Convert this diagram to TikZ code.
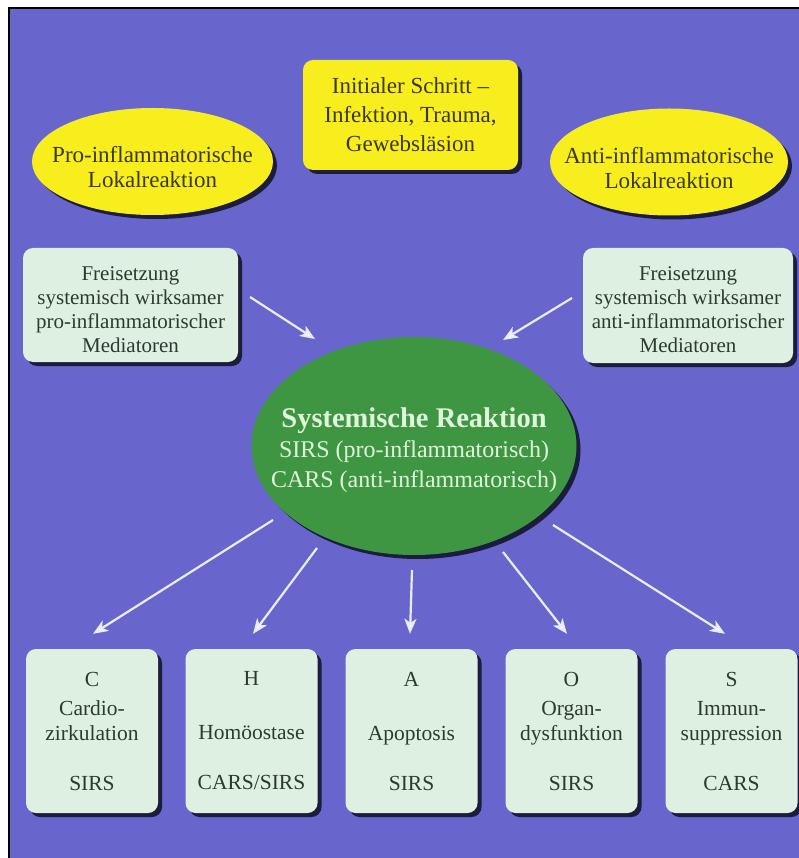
\documentclass[tikz,border=0pt]{standalone}
\usepackage{fontspec}
\setmainfont{Liberation Serif}
\usetikzlibrary{shapes.geometric,arrows.meta,shadows}

\definecolor{bg}{RGB}{104,102,204}
\definecolor{yel}{RGB}{248,238,30}
\definecolor{yeltext}{RGB}{58,56,18}
\definecolor{mint}{RGB}{222,240,226}
\definecolor{minttext}{RGB}{45,58,48}
\definecolor{grn}{RGB}{62,150,66}
\definecolor{grntext}{RGB}{225,245,220}
\definecolor{arrowc}{RGB}{236,236,255}
\definecolor{shade}{RGB}{20,20,45}

\newcommand{\topstrut}[1]{\rule{0pt}{#1}}

\begin{document}
\begin{tikzpicture}[x=1pt,y=-1pt,
  shad/.style={drop shadow={shadow xshift=4pt,shadow yshift=-4pt,fill=shade,opacity=0.9}},
  yellipse/.style={ellipse, fill=yel, shad, text=yeltext, inner xsep=-22pt, inner ysep=0pt,
    align=center, font=\fontsize{23}{25}\selectfont},
  ybox/.style={rectangle, rounded corners=10pt, fill=yel, shad, text=yeltext, inner sep=0pt,
    minimum width=215pt, minimum height=110pt, align=center, font=\fontsize{23}{29}\selectfont},
  mbox/.style={rectangle, rounded corners=10pt, fill=mint, shad, text=minttext, inner sep=0pt,
    align=center, font=\fontsize{21}{24}\selectfont},
  cbox/.style={mbox, minimum width=132pt, minimum height=164pt, font=\fontsize{21.5}{25}\selectfont},
  sysell/.style={ellipse, fill=grn, shad, text=grntext, inner xsep=-35pt, inner ysep=0pt,
    minimum width=325pt, minimum height=218pt, align=center, font=\fontsize{24}{30}\selectfont},
  arr/.style={draw=arrowc, line width=2.2pt,
    -{Stealth[length=15pt,width=12pt,inset=4pt,fill=white]}}
]
\useasboundingbox (0,0) rectangle (799,858);
\fill[white] (0,0) rectangle (799,858);
\fill[bg] (8,7) rectangle (799,858);
\draw[black,line width=2pt] (9,858) -- (9,8) -- (799,8);

% top row
\node[ybox] (init) at (410.5,115) {Initialer Schritt --\\Infektion, Trauma,\\Gewebsläsion};
\node[yellipse, minimum width=241pt, minimum height=107pt] (proell) at (152.5,161.5)
  {\topstrut{28pt}Pro-inflammatorische\\Lokalreaktion};
\node[yellipse, minimum width=238pt, minimum height=107pt] (antiell) at (669,162)
  {\topstrut{28pt}Anti-inflammatorische\\Lokalreaktion};

% mediator boxes
\node[mbox, minimum width=215pt, minimum height=114pt] (fl) at (130.5,305)
  {\topstrut{22.5pt}Freisetzung\\systemisch wirksamer\\pro-inflammatorischer\\Mediatoren};
\node[mbox, minimum width=210pt, minimum height=115pt] (fr) at (688,305.5)
  {\topstrut{22.5pt}Freisetzung\\systemisch wirksamer\\anti-inflammatorischer\\Mediatoren};

% systemic reaction
\node[sysell] (sys) at (414,446)
  {{\fontsize{28.5}{30}\selectfont\bfseries\topstrut{27.5pt}Systemische Reaktion}\\SIRS (pro-inflammatorisch)\\CARS (anti-inflammatorisch)};

% bottom boxes
\node[cbox] (b1) at (92,731) {C\\[4pt]Cardio-\\zirkulation\\[25pt]SIRS};
\node[cbox] (b2) at (251.5,731) {H\\[29pt]Homöostase\\[25pt]CARS/SIRS};
\node[cbox] (b3) at (411.5,731) {A\\[29pt]Apoptosis\\[25pt]SIRS};
\node[cbox] (b4) at (571.5,731) {O\\[4pt]Organ-\\dysfunktion\\[25pt]SIRS};
\node[cbox] (b5) at (731.5,731) {S\\[4pt]Immun-\\suppression\\[25pt]CARS};

% upper arrows (free ends)
\coordinate (la1) at (250,297);
\coordinate (la2) at (315,339);
\coordinate (ra1) at (572,298);
\coordinate (ra2) at (503,340);
\draw[arr] (la1) -- (la2);
\draw[arr] (ra1) -- (ra2);

% lower arrows from the systemic reaction towards the five boxes
\coordinate (s1) at (273,520);
\coordinate (s2) at (317,548);
\coordinate (s3) at (412,570);
\coordinate (s4) at (503,552);
\coordinate (s5) at (553,525);
\coordinate (e1) at ([yshift=15pt,xshift=1pt]b1.north);
\coordinate (e2) at ([yshift=15pt,xshift=1.5pt]b2.north);
\coordinate (e3) at ([yshift=15pt,xshift=-1.5pt]b3.north);
\coordinate (e4) at ([yshift=15pt,xshift=-4.5pt]b4.north);
\coordinate (e5) at ([yshift=15pt,xshift=-6.5pt]b5.north);
\draw[arr] (s1) -- (e1);
\draw[arr] (s2) -- (e2);
\draw[arr] (s3) -- (e3);
\draw[arr] (s4) -- (e4);
\draw[arr] (s5) -- (e5);
\end{tikzpicture}
\end{document}
